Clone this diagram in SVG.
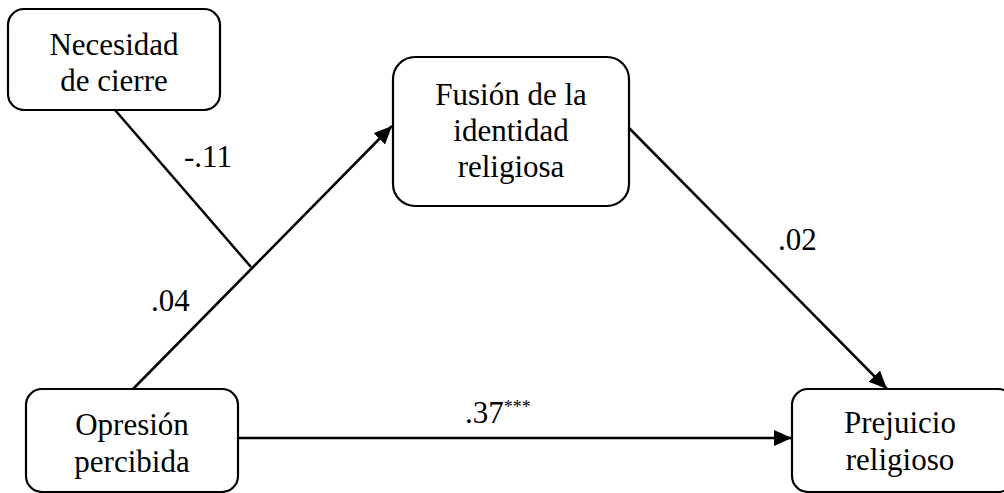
<svg xmlns="http://www.w3.org/2000/svg" width="1004" height="493" viewBox="0 0 1004 493" font-family="Liberation Serif, DejaVu Serif, Noto Serif, serif">
<style>
  .box { fill: #fff; stroke: #000; stroke-width: 2.2; }
  .node { font-size: 31px; fill: #000; text-anchor: middle; }
  .lbl { font-size: 31px; fill: #000; }
  .sup { font-size: 18px; }
  .edge { stroke: #000; stroke-width: 2.5; fill: none; }
</style>
<defs>
  <marker id="ah" markerUnits="userSpaceOnUse" markerWidth="19" markerHeight="17" refX="18" refY="8" orient="auto">
    <path d="M0,0 L18,8 L0,16 z" fill="#000"/>
  </marker>
</defs>
<rect width="1004" height="493" fill="#fff"/>
<g id="connectors">
  <line class="edge" x1="115" y1="110" x2="251" y2="267"/>
  <line class="edge" x1="133" y1="389" x2="392" y2="126" marker-end="url(#ah)"/>
  <line class="edge" x1="629" y1="128" x2="887" y2="389" marker-end="url(#ah)"/>
  <line class="edge" x1="238" y1="438" x2="792" y2="438" stroke-width="3" marker-end="url(#ah)"/>
</g>
<g id="labels">
  <text class="lbl" font-family="Liberation Serif, serif" x="184" y="167">-.11</text>
  <text class="lbl" font-family="Liberation Serif, serif" x="151" y="311">.04</text>
  <text class="lbl" font-family="Liberation Serif, serif" x="778" y="250">.02</text>
  <text class="lbl" font-family="Liberation Serif, serif" x="465" y="423">.37<tspan class="sup" dy="-10">***</tspan></text>
</g>
<g id="node-necesidad">
  <rect class="box" x="8" y="9" width="212" height="101" rx="16"/>
  <text class="node" font-family="Liberation Serif, serif" x="114" y="55">Necesidad</text>
  <text class="node" font-family="Liberation Serif, serif" x="114" y="91">de cierre</text>
</g>
<g id="node-fusion">
  <rect class="box" x="393" y="57" width="236" height="149" rx="22"/>
  <text class="node" font-family="Liberation Serif, serif" x="511" y="105">Fusión de la</text>
  <text class="node" font-family="Liberation Serif, serif" x="511" y="141">identidad</text>
  <text class="node" font-family="Liberation Serif, serif" x="511" y="177">religiosa</text>
</g>
<g id="node-opresion">
  <rect class="box" x="26" y="389" width="212" height="103" rx="16"/>
  <text class="node" font-family="Liberation Serif, serif" x="132" y="435">Opresión</text>
  <text class="node" font-family="Liberation Serif, serif" x="132" y="472">percibida</text>
</g>
<g id="node-prejuicio">
  <rect class="box" x="792" y="389" width="222" height="103" rx="16"/>
  <text class="node" font-family="Liberation Serif, serif" x="900" y="433">Prejuicio</text>
  <text class="node" font-family="Liberation Serif, serif" x="900" y="470">religioso</text>
</g>
</svg>
